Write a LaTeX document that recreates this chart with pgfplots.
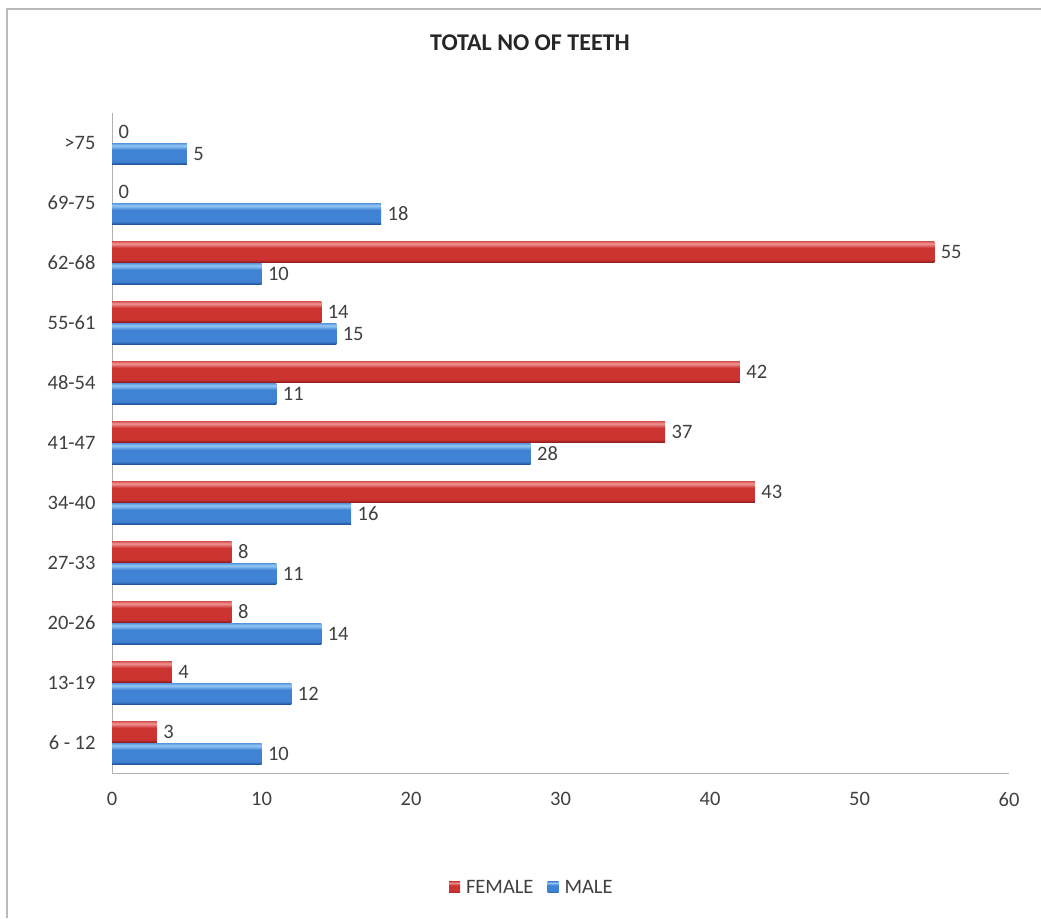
\documentclass[border=0pt]{standalone}
\usepackage{pgfplots}
\pgfplotsset{compat=1.18}
\usepackage{fontspec}
\setmainfont{Carlito}

\definecolor{txt}{RGB}{64,64,64}
\definecolor{femTop}{RGB}{240,150,148}
\definecolor{femMid}{RGB}{204,52,50}
\definecolor{femBot}{RGB}{140,26,26}
\definecolor{malTop}{RGB}{150,200,246}
\definecolor{malMid}{RGB}{64,130,212}
\definecolor{malBot}{RGB}{32,78,146}

% bevelled bar fills: the path covers 25bp..75bp of each shading
\pgfdeclareverticalshading{fembevel}{100bp}{%
  color(0bp)=(femBot); color(25bp)=(femBot); color(32bp)=(femMid);
  color(60bp)=(femMid); color(70bp)=(femTop); color(75bp)=(femMid!60!femTop);
  color(100bp)=(femMid!60!femTop)}
\pgfdeclareverticalshading{malbevel}{100bp}{%
  color(0bp)=(malBot); color(25bp)=(malBot); color(32bp)=(malMid);
  color(60bp)=(malMid); color(70bp)=(malTop); color(75bp)=(malMid!60!malTop);
  color(100bp)=(malMid!60!malTop)}

% teeth counts per age group, bottom to top: 6-12 ... >75
\pgfplotstableread{
idx female male
0  3  10
1  4  12
2  8  14
3  8  11
4  43 16
5  37 28
6  42 11
7  14 15
8  55 10
9  0  18
10 0  5
}\teethdata

\pgfplotsset{
  fembar/.style={draw=none, shade, shading=fembevel},
  malbar/.style={draw=none, shade, shading=malbevel},
}

\begin{document}
\begin{tikzpicture}
\useasboundingbox (0pt,0pt) rectangle (1041pt,918pt);
\draw[gray!55, line width=2pt] (7pt,0pt) -- (7pt,909pt) -- (1041pt,909pt);
\node[font=\fontsize{24}{28}\selectfont\bfseries, text=black!85] at (530pt,875pt) {TOTAL NO OF TEETH};
\begin{axis}[
  at={(112pt,145pt)}, anchor=south west,
  scale only axis, width=897pt, height=660pt,
  xmin=0, xmax=60, ymin=-0.5, ymax=10.5,
  xbar, bar width=21pt,
  /pgf/number format/assume math mode=true,
  axis x line*=bottom, axis y line*=left,
  axis line style={draw=gray!60, line width=1pt, -},
  major tick length=0pt,
  xtick={0,10,...,60},
  ytick={0,...,10},
  yticklabels={6 - 12,13-19,20-26,27-33,34-40,41-47,48-54,55-61,62-68,69-75,>75},
  tick label style={font=\fontsize{20.5}{24}\selectfont, text=txt},
  xticklabel style={yshift=-16pt},
  yticklabel style={xshift=-13pt},
  nodes near coords,
  every node near coord/.append style={font=\fontsize{20.5}{24}\selectfont, text=txt, anchor=west, xshift=3pt},
  legend style={at={(0.468,-0.174)}, anchor=center, draw=none, legend columns=2,
    font=\fontsize{20.5}{24}\selectfont, text=txt,
    /tikz/every even column/.append style={column sep=12pt}},
  legend image code/.code={\path[#1] (0pt,-5pt) rectangle (11pt,6pt); \path (15pt,0pt);},
]
\addlegendimage{fembar}
\addlegendentry{FEMALE}
\addlegendimage{malbar}
\addlegendentry{MALE}
% one plot per bar, so that each bar carries its own shading
\pgfplotsinvokeforeach{0,...,10}{
  \addplot[fembar, bar shift=11pt, forget plot, y filter/.expression={abs(y-#1)<0.1 ? y : nan}]
    table[x=female, y=idx] {\teethdata};
  \addplot[malbar, bar shift=-11pt, forget plot, y filter/.expression={abs(y-#1)<0.1 ? y : nan}]
    table[x=male, y=idx] {\teethdata};
}
\end{axis}
\end{tikzpicture}
\end{document}
